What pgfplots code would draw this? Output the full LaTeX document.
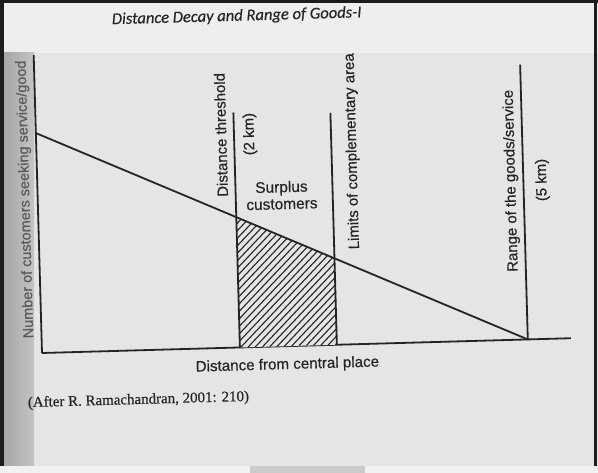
\documentclass[border=0pt]{standalone}
\usepackage{fontspec}
\setmainfont{Liberation Sans}[FakeBold=0.5]
\newfontfamily\lblfont{Liberation Sans}[FakeBold=0.45]
\newfontfamily\srcfont{Liberation Serif}[FakeBold=0.4]
\newfontfamily\ttlfont{Carlito}[FakeBold=0.3]
\usepackage{pgfplots}
\pgfplotsset{compat=1.18}
\definecolor{ink}{HTML}{242424}
\definecolor{pagebg}{HTML}{E5E5E5}
\definecolor{topbg}{HTML}{EEEEEE}
\definecolor{stripL}{HTML}{A6A6A6}
\definecolor{stripR}{HTML}{C4C4C4}
\definecolor{frame}{HTML}{1C1C1C}
\definecolor{ylab}{HTML}{5A5A5A}
\definecolor{bottombg}{HTML}{F1F1F1}
\definecolor{bottomrect}{HTML}{CBCBCB}
\begin{document}
\begin{tikzpicture}[x=1bp,y=1bp]
\useasboundingbox (0,0) rectangle (598,473);
% scanned page background
\fill[pagebg] (0,0) rectangle (598,473);
\fill[topbg] (0,420) rectangle (598,473);
\shade[left color=stripL, right color=stripR] (4,7) rectangle (34,420);
\fill[bottombg] (0,0) rectangle (598,7);
\fill[bottomrect] (250,0) rectangle (365,7);
% frame
\fill[frame] (0,470) rectangle (598,473);
\fill[frame] (0,7) rectangle (3.5,473);
\fill[frame] (594,7) rectangle (597,473);

\begin{scope}[transform canvas={rotate around={1.6:(42,120)}}]
\begin{axis}[
  at={(42bp,120bp)}, anchor=south west,
  scale only axis, width=529bp, height=298bp,
  xmin=0, xmax=5.29, ymin=0, ymax=2.98,
  enlargelimits=false, clip=false,
  axis x line=bottom, axis y line=left,
  axis line style={-, draw=ink, line width=1.8bp},
  xtick=\empty, ytick=\empty,
]
% surplus customers area (hatched below)
\addplot[draw=none, fill=pagebg]
  coordinates {(1.98,0) (1.98,1.304) (2.95,0.865) (2.95,0)} -- cycle;
\begin{scope}
\clip (axis cs:1.98,0) -- (axis cs:1.98,1.304) -- (axis cs:2.95,0.865) -- (axis cs:2.95,0) -- cycle;
\pgfplotsinvokeforeach{0,...,34}{
  \draw[ink, line width=1.1bp] (axis cs:{0.6+#1*0.073},0) -- (axis cs:{2.0+#1*0.073},1.4);
}
\end{scope}
% distance decay line
\addplot[ink, line width=1.8bp] coordinates {(0,2.20) (4.86,0)};
% distance threshold
\addplot[ink, line width=1.8bp] coordinates {(1.98,0) (1.98,2.35)};
% limits of complementary area
\addplot[ink, line width=1.8bp] coordinates {(2.95,0) (2.95,2.32)};
% range of the good
\addplot[ink, line width=1.8bp] coordinates {(4.86,0) (4.86,2.75)};

\node[rotate=90, text=ink, font=\lblfont\fontsize{15}{18}\selectfont] at (axis cs:1.85,2.13) {Distance threshold};
\node[rotate=90, text=ink, font=\lblfont\fontsize{15}{18}\selectfont] at (axis cs:2.14,2.13) {(2 km)};
\node[text=ink, align=center, font=\lblfont\fontsize{15.5}{17}\selectfont] at (axis cs:2.44,1.51) {Surplus\\customers};
\node[rotate=90, text=ink, font=\lblfont\fontsize{15}{18}\selectfont] at (axis cs:3.16,1.93) {Limits of complementary area};
\node[rotate=90, text=ink, font=\lblfont\fontsize{15}{18}\selectfont] at (axis cs:4.74,1.59) {Range of the goods/service};
\node[rotate=90, text=ink, font=\lblfont\fontsize{15}{18}\selectfont] at (axis cs:5.05,1.59) {(5 km)};
\node[text=ink, font=\lblfont\fontsize{15.2}{18}\selectfont] at (axis cs:2.45,-0.19) {Distance from central place};
\node[rotate=90, text=ylab, font=\lblfont\fontsize{14.5}{17}\selectfont] at (axis cs:-0.12,1.54) {Number of customers seeking service/good};
\node[text=ink, font=\ttlfont\itshape\fontsize{16.6}{19}\selectfont] at (axis cs:2.04,3.31) {Distance Decay and Range of Goods-I};
\node[anchor=west, text=ink, font=\srcfont\fontsize{15}{17}\selectfont] at (axis cs:-0.19,-0.50) {(After R. Ramachandran, 2001: 210)};
\end{axis}
\end{scope}
\end{tikzpicture}
\end{document}
